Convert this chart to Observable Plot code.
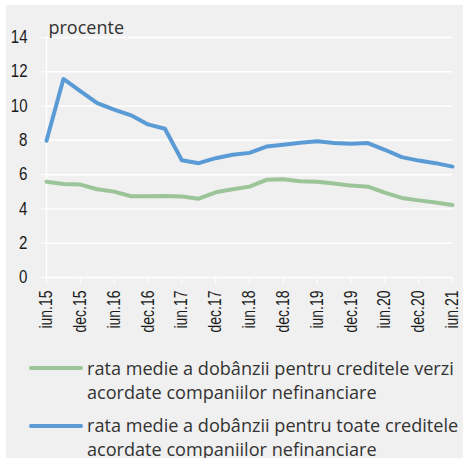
<!DOCTYPE html>
<html>
<head>
<meta charset="utf-8">
<script src="https://cdn.jsdelivr.net/npm/d3@7"></script>
<script src="https://cdn.jsdelivr.net/npm/@observablehq/plot@0.6"></script>
<style>
  html, body { margin: 0; padding: 0; background: #ffffff; }
  #wrap { position: relative; width: 463px; height: 458px; overflow: hidden; }
  #panel { position: absolute; left: 6px; top: 5px; right: 0; bottom: 0; background: #f0f0f0; }
  #chart { position: absolute; left: 0; top: 0; }
  .leg { position: absolute; left: 87px; font-family: "Open Sans", sans-serif; font-size: 18.1px; line-height: 24px; color: #333; white-space: nowrap; }
  .sw { position: absolute; left: 29px; width: 54px; height: 4px; border-radius: 2px; }
</style>
</head>
<body>
<div id="wrap">
  <div id="panel"></div>
  <div id="chart"></div>
  <div class="sw" id="sw1" style="top:366px"></div>
  <div class="leg" id="leg1" style="top:356px"></div>
  <div class="sw" id="sw2" style="top:424px"></div>
  <div class="leg" id="leg2" style="top:413px"></div>
</div>
<script>
// ---- data ----
const quarters = ["iun.15","sep.15","dec.15","mar.16","iun.16","sep.16","dec.16","mar.17","iun.17","sep.17","dec.17","mar.18","iun.18","sep.18","dec.18","mar.19","iun.19","sep.19","dec.19","mar.20","iun.20","sep.20","dec.20","mar.21","iun.21"];
const xTickLabels = ["iun.15","dec.15","iun.16","dec.16","iun.17","dec.17","iun.18","dec.18","iun.19","dec.19","iun.20","dec.20","iun.21"];
const yTicks = [0, 2, 4, 6, 8, 10, 12, 14];
const greenRates = [5.58,5.46,5.42,5.15,5.01,4.74,4.74,4.76,4.72,4.60,4.97,5.15,5.30,5.70,5.73,5.61,5.58,5.48,5.36,5.30,4.95,4.64,4.50,4.37,4.23];
const allRates   = [7.98,11.58,10.87,10.17,9.79,9.46,8.93,8.68,6.84,6.67,6.96,7.16,7.27,7.64,7.74,7.86,7.95,7.84,7.80,7.84,7.45,7.02,6.82,6.67,6.47];
const seriesNames = [
  "rata medie a dobânzii pentru creditele verzi<br>acordate companiilor nefinanciare",
  "rata medie a dobânzii pentru toate creditele<br>acordate companiilor nefinanciare"
];
const seriesColors = ["#9bc499", "#5b9bd5"];
const unitLabel = "procente";

// ---- table ----
const greenRows = quarters.map((q, i) => ({q, v: greenRates[i]}));
const allRows = quarters.map((q, i) => ({q, v: allRates[i]}));

const plot = Plot.plot({
  width: 463,
  height: 340,
  marginLeft: 46,
  marginRight: 11,
  marginTop: 37,
  marginBottom: 63,
  style: {background: "transparent", fontFamily: "'Liberation Sans', Arial, sans-serif", fontSize: "17.5px", color: "#1a1a1a"},
  x: {type: "point", domain: quarters, padding: 0, round: false, range: [46, 452]},
  y: {domain: [0, 14]},
  marks: [
    Plot.ruleY(yTicks, {stroke: "white", strokeWidth: 1.5}),
    Plot.ruleX([quarters[0]], {stroke: "white", strokeWidth: 1.5}),
    Plot.axisY({ticks: yTicks, tickSize: 7, tickPadding: 12, stroke: "white", fill: "#1a1a1a", label: null}),
    Plot.axisX({ticks: xTickLabels, tickRotate: -90, tickSize: 7, tickPadding: 6, stroke: "white", fill: "#1a1a1a", label: null}),
    Plot.line(greenRows, {x: "q", y: "v", stroke: seriesColors[0], strokeWidth: 4, strokeLinejoin: "round", strokeLinecap: "round"}),
    Plot.line(allRows, {x: "q", y: "v", stroke: seriesColors[1], strokeWidth: 4, strokeLinejoin: "round", strokeLinecap: "round"}),
    Plot.text([unitLabel], {frameAnchor: "top-left", text: d => d, dx: 2, dy: -4, lineAnchor: "bottom", textAnchor: "start", fontFamily: "'Open Sans', sans-serif", fontSize: 18, fill: "#333"})
  ]
});
document.getElementById("chart").appendChild(plot);

// condense the axis tick labels (reference uses a condensed face)
function condense(selector, factor) {
  d3.select(plot).selectAll(selector).each(function() {
    const w = this.getComputedTextLength();
    this.setAttribute("textLength", (w * factor).toFixed(1));
    this.setAttribute("lengthAdjust", "spacingAndGlyphs");
  });
}
condense('g[aria-label="x-axis tick label"] text', 0.8);
condense('g[aria-label="y-axis tick label"] text', 0.86);

document.getElementById("sw1").style.background = seriesColors[0];
document.getElementById("sw2").style.background = seriesColors[1];
document.getElementById("leg1").innerHTML = seriesNames[0];
document.getElementById("leg2").innerHTML = seriesNames[1];
</script>
</body>
</html>
